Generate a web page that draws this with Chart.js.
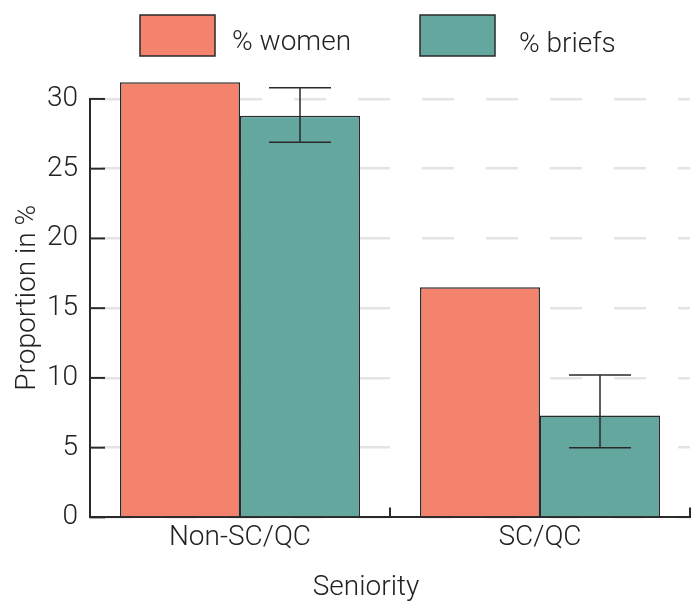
<!DOCTYPE html>
<html lang="en">
<head>
  <meta charset="UTF-8" />
  <title>Proportion of women and briefs by seniority</title>
  <script src="https://cdn.jsdelivr.net/npm/chart.js"></script>
  <style>
    * { margin: 0; padding: 0; box-sizing: border-box; }
    body { background: #fff; width: 692px; height: 601px; overflow: hidden; }
    #wrap { position: relative; width: 692px; height: 601px; }
  </style>
</head>
<body>
  <div id="wrap"><canvas id="chart"></canvas></div>

  <script>
    // data
    const categories = ['Non-SC/QC', 'SC/QC'];
    const seriesNames = ['% women', '% briefs'];
    const women = [31.2, 16.5];
    const briefs = [28.8, 7.3];
    const briefsLow = [26.9, 5.0];
    const briefsHigh = [30.8, 10.2];
    const yTicks = [0, 5, 10, 15, 20, 25, 30];
    const xTitle = 'Seniority';

    const colors = {
      women: '#F3836C',
      briefs: '#63A79F',
      edge: '#2a2a2a',
      grid: '#e4e4e4',
      text: '#222'
    };
    const FONT = { family: 'Roboto, "Liberation Sans", sans-serif', size: 28, weight: '300' };
    const fontCss = `${FONT.weight} ${FONT.size}px ${FONT.family}`;

    // inward tick marks, the short y axis line and the error bars
    const extras = {
      id: 'extras',
      afterDatasetsDraw(chart) {
        const { ctx, chartArea } = chart;
        const x = chart.scales.x, y = chart.scales.y;
        ctx.save();
        ctx.strokeStyle = colors.edge;

        // error bars on the briefs bars
        ctx.lineWidth = 1.5;
        chart.getDatasetMeta(1).data.forEach((bar, i) => {
          const yl = y.getPixelForValue(briefsLow[i]);
          const yh = y.getPixelForValue(briefsHigh[i]);
          ctx.beginPath();
          ctx.moveTo(bar.x, yl); ctx.lineTo(bar.x, yh);
          ctx.moveTo(bar.x - 31, yl); ctx.lineTo(bar.x + 31, yl);
          ctx.moveTo(bar.x - 31, yh); ctx.lineTo(bar.x + 31, yh);
          ctx.stroke();
        });

        // y axis line from 0 to the top tick
        ctx.lineWidth = 2;
        const yTop = y.getPixelForValue(yTicks[yTicks.length - 1]);
        const yBot = y.getPixelForValue(0);
        ctx.beginPath();
        ctx.moveTo(chartArea.left, yTop - 1);
        ctx.lineTo(chartArea.left, yBot);
        ctx.stroke();

        // y ticks point into the plot
        yTicks.forEach(v => {
          const py = y.getPixelForValue(v);
          ctx.beginPath();
          ctx.moveTo(chartArea.left, py);
          ctx.lineTo(chartArea.left + 15, py);
          ctx.stroke();
        });

        // x ticks at category boundaries, pointing up
        const step = x.getPixelForValue(1) - x.getPixelForValue(0);
        for (let i = 1; i <= categories.length; i++) {
          const px = x.getPixelForValue(i) - step / 2;
          ctx.beginPath();
          ctx.moveTo(px, yBot);
          ctx.lineTo(px, yBot - 10);
          ctx.stroke();
        }

        // x axis title, sitting a little left of the plot centre
        ctx.font = fontCss;
        ctx.fillStyle = colors.text;
        ctx.textAlign = 'center';
        ctx.textBaseline = 'middle';
        ctx.fillText(xTitle, 366, 588);
        ctx.restore();
      }
    };

    // legend with wide boxes, drawn above the plot
    const boxLegend = {
      id: 'boxLegend',
      afterDraw(chart) {
        const { ctx } = chart;
        const items = [
          { box: 140, text: 232, ty: 43, color: colors.women },
          { box: 420, text: 519, ty: 45, color: colors.briefs }
        ];
        ctx.save();
        ctx.font = fontCss;
        ctx.textBaseline = 'middle';
        items.forEach((it, i) => {
          ctx.fillStyle = it.color;
          ctx.fillRect(it.box, 15, 75, 41);
          ctx.strokeStyle = colors.edge;
          ctx.lineWidth = 1.5;
          ctx.strokeRect(it.box, 15, 75, 41);
          ctx.fillStyle = colors.text;
          ctx.fillText(chart.data.datasets[i].label, it.text, it.ty);
        });
        ctx.restore();
      }
    };

    new Chart(document.getElementById('chart'), {
      type: 'bar',
      data: {
        labels: categories,
        datasets: [
          {
            label: seriesNames[0],
            data: women,
            backgroundColor: colors.women,
            borderColor: colors.edge,
            borderWidth: 1.5
          },
          {
            label: seriesNames[1],
            data: briefs,
            backgroundColor: colors.briefs,
            borderColor: colors.edge,
            borderWidth: 1.5
          }
        ]
      },
      options: {
        responsive: true,
        maintainAspectRatio: false,
        animation: false,
        datasets: { bar: { categoryPercentage: 0.8, barPercentage: 1.0 } },
        layout: { padding: { top: 78, right: 2, left: 0, bottom: 42 } },
        plugins: {
          legend: { display: false },
          tooltip: { enabled: false }
        },
        scales: {
          x: {
            grid: { display: false, drawTicks: false, tickLength: 0 },
            border: { display: true, color: colors.edge, width: 2 },
            ticks: { color: colors.text, font: FONT, padding: 4 },
            title: { display: false }
          },
          y: {
            min: 0,
            max: 31.5,
            afterBuildTicks(scale) {
              scale.ticks = yTicks.map(v => ({ value: v }));
            },
            afterFit(scale) { scale.width = 90; },
            grid: { color: colors.grid, lineWidth: 2.5, drawTicks: false },
            border: { display: false, dash: [32, 32], dashOffset: 52 },
            ticks: { color: colors.text, font: FONT, padding: 12 },
            title: {
              display: true,
              text: 'Proportion in %',
              color: colors.text,
              font: FONT,
              padding: { top: 11, bottom: 0 }
            }
          }
        }
      },
      plugins: [extras, boxLegend]
    });
  </script>
</body>
</html>
